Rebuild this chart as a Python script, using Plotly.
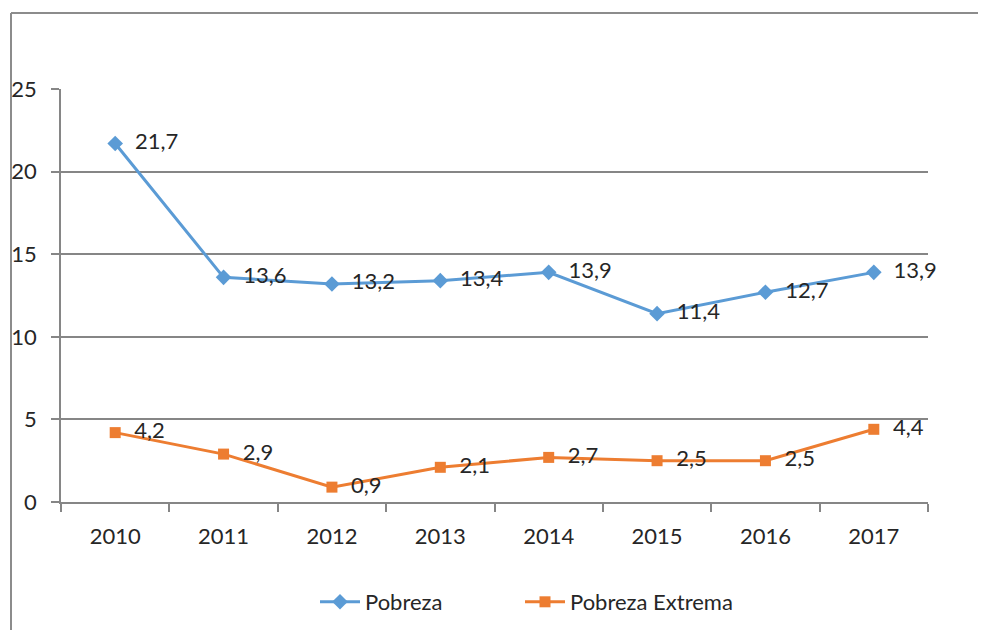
import plotly.graph_objects as go

# Données (pourcentages)
years = ["2010", "2011", "2012", "2013", "2014", "2015", "2016", "2017"]
pobreza = [21.7, 13.6, 13.2, 13.4, 13.9, 11.4, 12.7, 13.9]
pobreza_extrema = [4.2, 2.9, 0.9, 2.1, 2.7, 2.5, 2.5, 4.4]
y_ticks = [0, 5, 10, 15, 20, 25]

# la page a une marge de 8px : on décale tout
OFF = 8
W, H = 986 - OFF, 630 - OFF
L, R, T, B = 61 - OFF, 58, 89 - OFF, 128
pw, ph = W - L - R, H - T - B

def px_x(x):
    return (x - OFF - L) / pw

def px_y(y):
    return (H - B - (y - OFF)) / ph

grid = "#868686"
txt = "#262626"
font_family = "Lato, Carlito, Calibri, sans-serif"
fs = 22

fig = go.Figure()

fig.add_trace(go.Scatter(
    x=years, y=pobreza, name="Pobreza", legend="legend",
    mode="lines+markers+text",
    line=dict(color="#5B9BD5", width=3),
    marker=dict(symbol="diamond", size=12, color="#5B9BD5"),
    texttemplate="  %{y:.1f}", textposition="middle right",
    textfont=dict(size=fs, color=txt), cliponaxis=False,
))

fig.add_trace(go.Scatter(
    x=years, y=pobreza_extrema, name="Pobreza Extrema", legend="legend2",
    mode="lines+markers+text",
    line=dict(color="#ED7D31", width=3),
    marker=dict(symbol="square", size=11, color="#ED7D31"),
    texttemplate="  %{y:.1f}", textposition="middle right",
    textfont=dict(size=fs, color=txt), cliponaxis=False,
))

# bordure de la zone du graphique
x0, x1 = px_x(11), px_x(985)
y0, y1 = px_y(13), px_y(640)
fig.add_shape(type="line", xref="paper", yref="paper", x0=x0, x1=x1, y0=y0, y1=y0,
              line=dict(color="#8C8C8C", width=2))
fig.add_shape(type="line", xref="paper", yref="paper", x0=x0, x1=x0, y0=y0, y1=y1,
              line=dict(color="#8C8C8C", width=2))

leg = dict(orientation="h", xanchor="left", yanchor="middle", y=px_y(602),
           font=dict(size=fs, color=txt), itemwidth=40, bgcolor="rgba(0,0,0,0)")

fig.update_layout(
    width=W, height=H,
    margin=dict(l=L, r=R, t=T, b=B, autoexpand=False),
    paper_bgcolor="white", plot_bgcolor="white",
    separators=",.",
    font=dict(family=font_family, size=fs, color=txt),
    showlegend=True,
    legend=dict(leg, x=px_x(315)),
    legend2=dict(leg, x=px_x(520)),
    xaxis=dict(
        type="category", range=[-0.5, 7.5], tickson="boundaries",
        ticks="outside", ticklen=8, tickcolor=grid, tickwidth=1.5,
        showline=True, linecolor=grid, linewidth=1.5,
        showgrid=False, ticklabelstandoff=14, automargin=False,
        tickfont=dict(size=fs, color=txt),
    ),
    yaxis=dict(
        range=[0, 25], tickvals=y_ticks,
        ticks="outside", ticklen=8, tickcolor=grid, tickwidth=1.5,
        showline=True, linecolor=grid, linewidth=1.5,
        showgrid=True, gridcolor=grid, gridwidth=1.5, zeroline=False,
        ticklabelstandoff=10, automargin=False,
        tickfont=dict(size=fs, color=txt),
    ),
)

fig.write_html("out.html")
